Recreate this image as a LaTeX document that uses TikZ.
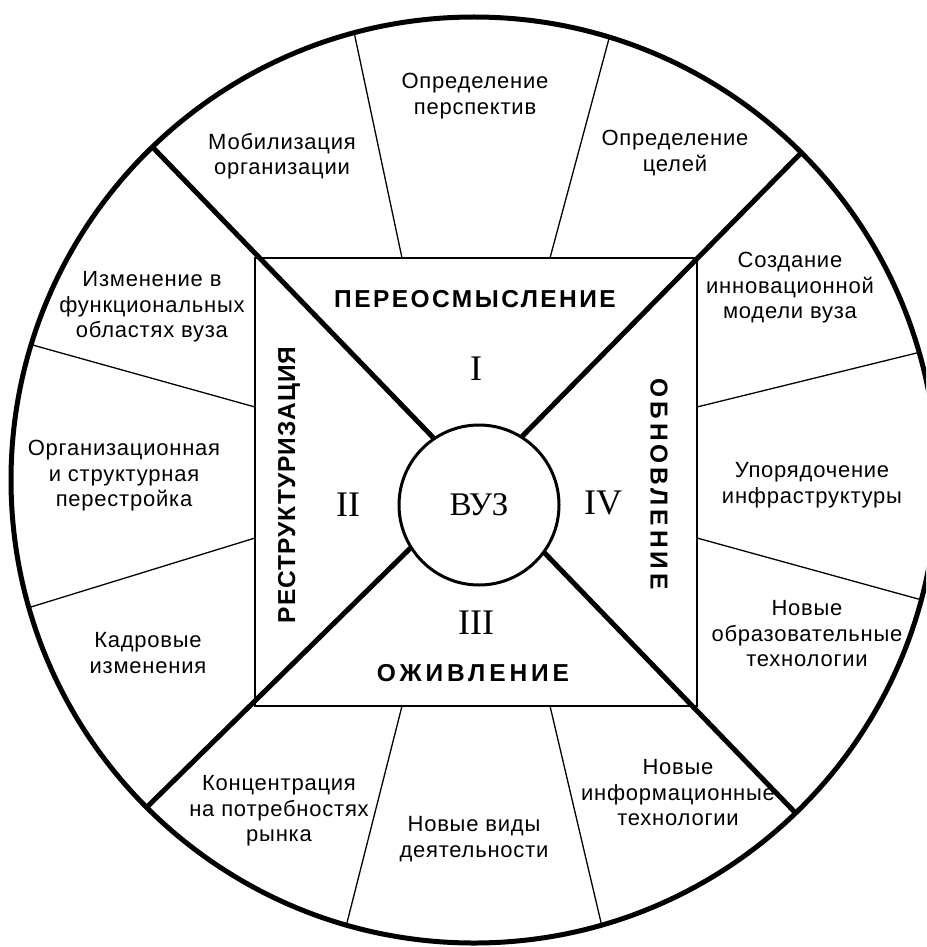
\documentclass[tikz,border=0pt]{standalone}
\usepackage{fontspec}
\usepackage{tikz}
\newfontfamily\itemfont{Liberation Sans}[LetterSpace=3.5]
\newfontfamily\phasefont{Liberation Sans}
\newfontfamily\numfont{Liberation Serif}
\tikzset{%
  rim/.style={circle,draw,line width=5pt,inner sep=0pt,outer sep=0pt,minimum size=926pt},
  hub/.style={circle,draw,line width=3pt,inner sep=0pt,outer sep=0pt,minimum size=160pt,
    font=\numfont\fontsize{33pt}{36pt}\selectfont},
  quad/.style={rectangle,draw,line width=1.4pt,inner sep=0pt,outer sep=0pt,
    minimum width=442pt,minimum height=448pt},
  spoke/.style={line width=5pt},
  divider/.style={line width=1.3pt},
  item/.style={align=center,inner sep=0pt,font=\itemfont\fontsize{22pt}{25.5pt}\selectfont},
  phase/.style={inner sep=0pt,
    font=\phasefont\bfseries\fontsize{24.5pt}{28pt}\selectfont\addfontfeatures{LetterSpace=#1}},
  phase/.default=0,
  numeral/.style={inner sep=0pt,font=\numfont\fontsize{36pt}{40pt}\selectfont},
}

\begin{document}
\begin{tikzpicture}[x=1pt,y=-1pt]
  \useasboundingbox (0,0) rectangle (926,947);
  \clip (0,0) rectangle (926,947);

  \node[rim] (rim) at (474,480) {};
  \node[quad] (quad) at (476,482) {};
  \node[hub] (hub) at (479,505) {ВУЗ};

  % diagonals of the square, from rim to hub
  \foreach \a/\b in {134.6/124.5,45.1/58.1,225.5/212.5,314.7/324.7}
    \draw[spoke] (rim.\a) -- (hub.\b);

  % thin dividers from the square out to the rim
  \coordinate (s1) at (402,258);
  \coordinate (s2) at (550,258);
  \coordinate (s3) at (697,407);
  \coordinate (s4) at (697,538);
  \coordinate (s5) at (550,706);
  \coordinate (s6) at (402,706);
  \coordinate (s7) at (255,538);
  \coordinate (s8) at (255,407);
  \foreach \s/\a in {s1/105.9,s2/73.6,s3/16.1,s4/345.5,s5/286.3,s6/254.2,s7/196.7,s8/163.7}
    \draw[divider] (\s) -- (rim.\a);

  \node[item] (mob) at (282,156) {Мобилизация\\организации};
  \node[item] (persp) at (475,96) {Определение\\перспектив};
  \node[item] (goals) at (675,153) {Определение\\целей};
  \node[item] (model) at (790,288) {Создание\\инновационной\\модели вуза};
  \node[item] (infra) at (812,485) {Упорядочение\\инфраструктуры};
  \node[item] (edu) at (807,634) {Новые\\образовательные\\технологии};
  \node[item] (info) at (678,793) {Новые\\информационные\\технологии};
  \node[item] (kinds) at (474,839) {Новые виды\\деятельности};
  \node[item] (market) at (279,811) {Концентрация\\на потребностях\\рынка};
  \node[item] (staff) at (148,653) {Кадровые\\изменения};
  \node[item] (org) at (124,476) {Организационная\\и структурная\\перестройка};
  \node[item] (func) at (152,307) {Изменение в\\функциональных\\областях вуза};

  \node[phase=10] (rethink) at (475,299) {ПЕРЕОСМЫСЛЕНИЕ};
  \node[phase=16,rotate=-90] (renew) at (659,484) {ОБНОВЛЕНИЕ};
  \node[phase=16] (revive) at (473,673) {ОЖИВЛЕНИЕ};
  \node[phase=4,rotate=90] (restruct) at (289,485) {РЕСТРУКТУРИЗАЦИЯ};

  \node[numeral] (one) at (476,369) {I};
  \node[numeral] (two) at (348,505) {II};
  \node[numeral] (three) at (476,623) {III};
  \node[numeral] (four) at (603,503) {IV};
\end{tikzpicture}
\end{document}
